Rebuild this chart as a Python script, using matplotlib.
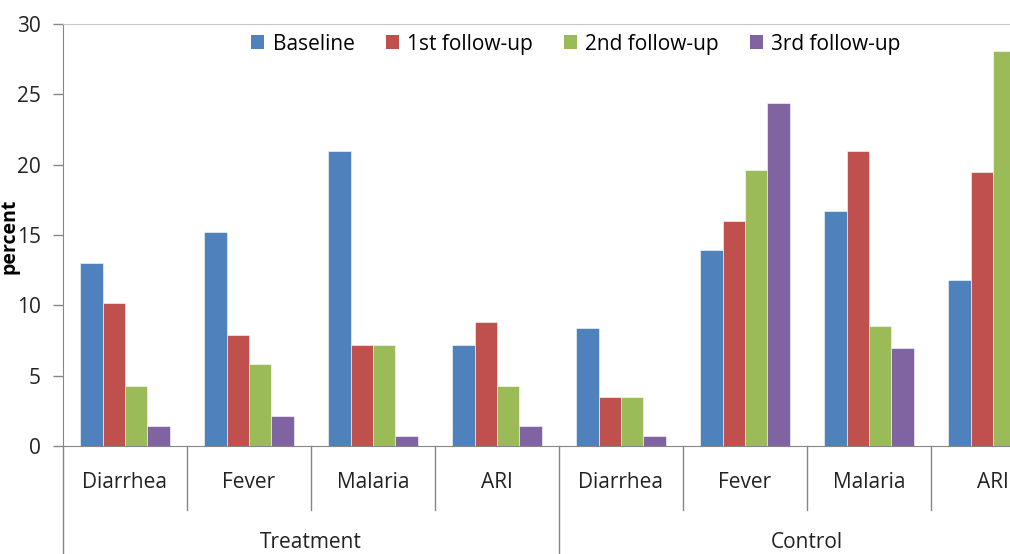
import numpy as np
import matplotlib
matplotlib.use("Agg")
import matplotlib.pyplot as plt
from matplotlib.patches import Patch

plt.rcParams['font.family'] = ['Open Sans', 'DejaVu Sans']

groups = ["Treatment", "Control"]
categories = ["Diarrhea", "Fever", "Malaria", "ARI"]
series = ["Baseline", "1st follow-up", "2nd follow-up", "3rd follow-up"]
baseline = [13.0, 15.2, 21.0, 7.2, 8.4, 13.9, 16.7, 11.8]
followup1 = [10.2, 7.9, 7.2, 8.8, 3.5, 16.0, 21.0, 19.5]
followup2 = [4.3, 5.8, 7.2, 4.3, 3.5, 19.6, 8.5, 28.1]
followup3 = [1.4, 2.1, 0.7, 1.4, 0.7, 24.4, 7.0, np.nan]
colors = ["#4F81BD", "#C0504D", "#9BBB59", "#8064A2"]

W, H = 1010, 554
fig = plt.figure(figsize=(W / 100, H / 100), dpi=100)
ax_left, ax_right, ax_top, ax_bottom = 63, 63 + 8 * 124, 24, 446
ax = fig.add_axes([ax_left / W, (H - ax_bottom) / H,
                   (ax_right - ax_left) / W, (ax_bottom - ax_top) / H])

n = len(baseline)
x = np.arange(n) + 0.5
bw = 0.18
for j, vals in enumerate([baseline, followup1, followup2, followup3]):
    ax.bar(x + (j - 1.5) * bw, vals, width=bw, color=colors[j],
           edgecolor="white", linewidth=0.4, zorder=3)

ax.set_xlim(0, n)
ax.set_ylim(0, 30)
ax.set_yticks(np.arange(0, 31, 5))
ax.set_xticks([])
grey = "#868686"
for s in ["left", "bottom"]:
    ax.spines[s].set_color(grey)
ax.spines["right"].set_visible(False)
ax.spines["top"].set_color("#c8c8c8")
ax.tick_params(axis="y", colors=grey, labelcolor="#222222", labelsize=15,
               length=7, width=1, pad=9)

axh = ax_bottom - ax_top
trans = ax.get_xaxis_transform()
# category dividers
for k in range(1, n):
    yb = -(510 - 446) / axh if k % 4 else -0.4
    ax.plot([k, k], [0, yb], color=grey, lw=1, clip_on=False, transform=trans)
ax.plot([0, 0], [0, -0.4], color=grey, lw=1, clip_on=False, transform=trans)

for i in range(n):
    ax.text(x[i], -(482 - 446) / axh, categories[i % 4], transform=trans,
            ha="center", va="center", fontsize=15, color="#222222")
for g, name in enumerate(groups):
    ax.text(g * 4 + 2, -(543 - 446) / axh, name, transform=trans,
            ha="center", va="center", fontsize=15, color="#222222")

ax.set_ylabel("percent", fontsize=14, fontweight="bold")
ax.yaxis.set_label_coords(-(63 - 20) / (ax_right - ax_left), (446 - 236) / axh)

handles = [Patch(facecolor=c, edgecolor="none") for c in colors]
ax.legend(handles, series, loc="center", bbox_to_anchor=((576 - 63) / 992, (446 - 44) / axh),
          ncol=4, frameon=False, fontsize=15, handlelength=0.62, handleheight=0.62,
          handletextpad=0.4, columnspacing=1.5)

fig.savefig("out.png", dpi=100)
